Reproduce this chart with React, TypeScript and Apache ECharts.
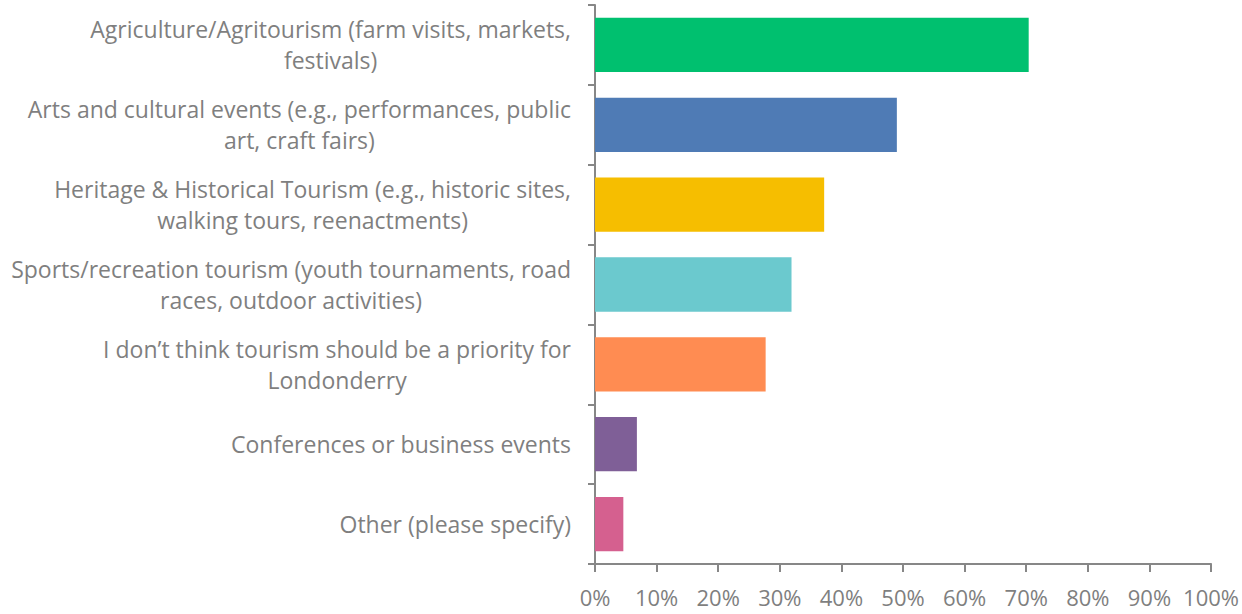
import React, { useEffect, useRef } from "react";
import * as echarts from "echarts";

const categories: string[] = [
  "Agriculture/Agritourism (farm visits, markets,\nfestivals)",
  "Arts and cultural events (e.g., performances, public\nart, craft fairs)",
  "Heritage & Historical Tourism (e.g., historic sites,\nwalking tours, reenactments)",
  "Sports/recreation tourism (youth tournaments, road\nraces, outdoor activities)",
  "I don\u2019t think tourism should be a priority for\nLondonderry",
  "Conferences or business events",
  "Other (please specify)",
];
const values: number[] = [70.4, 49.0, 37.2, 31.9, 27.7, 6.8, 4.6];
const colors: string[] = ["#00C06F", "#4F7BB5", "#F6BE00", "#6BC9CE", "#FF8C52", "#7F5F97", "#D5608F"];
const xTicks: number[] = [0, 10, 20, 30, 40, 50, 60, 70, 80, 90, 100];

const FONT = "Open Sans";
const GRAY = "#7f7f7f";
const AXIS = "#878787";

export default function App() {
  const ref = useRef<HTMLDivElement>(null);
  useEffect(() => {
    if (!ref.current) return;
    const chart = echarts.init(ref.current, undefined, { renderer: "svg" });
    const cats = [...categories].reverse();
    const vals = [...values].reverse();
    const cols = [...colors].reverse();
    chart.setOption({
      animation: false,
      grid: { left: 595, right: 28, top: 5, bottom: 50, containLabel: false },
      xAxis: {
        type: "value",
        min: xTicks[0],
        max: xTicks[xTicks.length - 1],
        interval: 10,
        axisLine: { show: true, lineStyle: { color: AXIS, width: 2 } },
        axisTick: { show: true, length: 8, lineStyle: { color: AXIS, width: 2 } },
        splitLine: { show: false },
        axisLabel: {
          formatter: (v: number) => `${v}%`,
          color: GRAY,
          fontFamily: FONT,
          fontSize: 22,
          margin: 22,
        },
      },
      yAxis: {
        type: "category",
        data: cats,
        axisLine: { show: true, lineStyle: { color: AXIS, width: 2 } },
        axisTick: { show: true, length: 7, lineStyle: { color: AXIS, width: 2 } },
        axisLabel: {
          margin: 24,
          formatter: (v: string) =>
            v
              .split("\n")
              .map((s) => `{c|${s}}`)
              .join("\n"),
          rich: {
            c: {
              align: "center",
              color: GRAY,
              fontFamily: FONT,
              fontSize: 23,
              lineHeight: 31,
            },
          },
        },
      },
      series: [
        {
          type: "bar",
          data: vals.map((v, i) => ({ value: v, itemStyle: { color: cols[i] } })),
          barCategoryGap: "32%",
        },
      ],
    });
    return () => chart.dispose();
  }, []);
  return (
    <div
      ref={ref}
      style={{ position: "fixed", left: 0, top: 0, width: 1242, height: 614, background: "#fff" }}
    />
  );
}
